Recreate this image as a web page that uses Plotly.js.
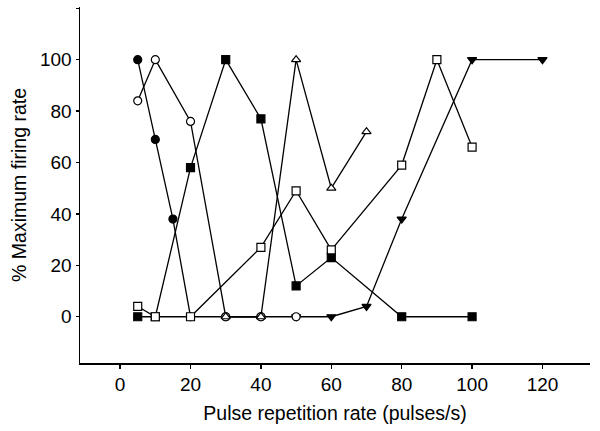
<!DOCTYPE html>
<html>
<head>
<meta charset="utf-8">
<script src="https://cdn.plot.ly/plotly-3.0.1.min.js"></script>
<style>
  html, body { margin: 0; padding: 0; background: #fff; }
  #chart { width: 600px; height: 431px; }
</style>
</head>
<body>
<div id="chart"></div>
<script>
// values (pulse rate in pulses/s, % max firing rate)
const filledCircleX = [5, 10, 15, 20, 30, 40];
const filledCircleY = [100, 69, 38, 0, 0, 0];

const openCircleX = [5, 10, 20, 30, 40, 50];
const openCircleY = [84, 100, 76, 0, 0, 0];

const openTriangleX = [30, 40, 50, 60, 70];
const openTriangleY = [0, 0, 100, 50, 72];

const downTriangleX = [50, 60, 70, 80, 100, 120];
const downTriangleY = [0, 0, 4, 38, 100, 100];

const filledSquareX = [5, 10, 20, 30, 40, 50, 60, 80, 100];
const filledSquareY = [0, 0, 58, 100, 77, 12, 23, 0, 0];

const openSquareX = [5, 10, 20, 40, 50, 60, 80, 90, 100];
const openSquareY = [4, 0, 0, 27, 49, 26, 59, 100, 66];

const xTicks = [0, 20, 40, 60, 80, 100, 120];
const yTicks = [0, 20, 40, 60, 80, 100, 120];
const yTickText = ['0', '20', '40', '60', '80', '100', ''];

function series(x, y, symbol, fill) {
    return {
        x: x,
        y: y,
        mode: 'lines+markers',
        type: 'scatter',
        line: { color: '#000', width: 1.3 },
        marker: {
            symbol: symbol,
            size: 8,
            color: fill,
            line: { color: '#000', width: 1.2 }
        },
        cliponaxis: false,
        hoverinfo: 'skip'
    };
}

// drawing order matters: later traces sit on top where markers overlap
const traces = [
    series(filledCircleX, filledCircleY, 'circle', '#000'),
    series(downTriangleX, downTriangleY, 'triangle-down', '#000'),
    series(openCircleX, openCircleY, 'circle', '#fff'),
    series(openTriangleX, openTriangleY, 'triangle-up', '#fff'),
    series(filledSquareX, filledSquareY, 'square', '#000'),
    series(openSquareX, openSquareY, 'square', '#fff')
];

const font = { family: 'Liberation Sans, Arial, sans-serif', color: '#000' };

const layout = {
    width: 600,
    height: 431,
    margin: { l: 80, r: 10, t: 7, b: 68 },
    paper_bgcolor: '#fff',
    plot_bgcolor: '#fff',
    showlegend: false,
    font: font,
    xaxis: {
        range: [-11.4, 133.5],
        tickvals: xTicks,
        ticks: 'outside',
        ticklen: 4,
        tickwidth: 1.5,
        tickcolor: '#000',
        showline: true,
        linecolor: '#000',
        linewidth: 1.5,
        showgrid: false,
        zeroline: false,
        tickfont: { size: 19 },
        title: { text: 'Pulse repetition rate (pulses/s)', font: { size: 19.5 }, standoff: 12 }
    },
    yaxis: {
        range: [-18, 120.5],
        tickvals: yTicks,
        ticktext: yTickText,
        ticks: 'outside',
        ticklen: 3,
        tickwidth: 1.5,
        tickcolor: '#000',
        showline: true,
        linecolor: '#000',
        linewidth: 1.5,
        showgrid: false,
        zeroline: false,
        tickfont: { size: 19 },
        title: { text: '% Maximum firing rate', font: { size: 19.5 }, standoff: 8 }
    }
};

Plotly.newPlot('chart', traces, layout, { displayModeBar: false, staticPlot: true });
</script>
</body>
</html>
